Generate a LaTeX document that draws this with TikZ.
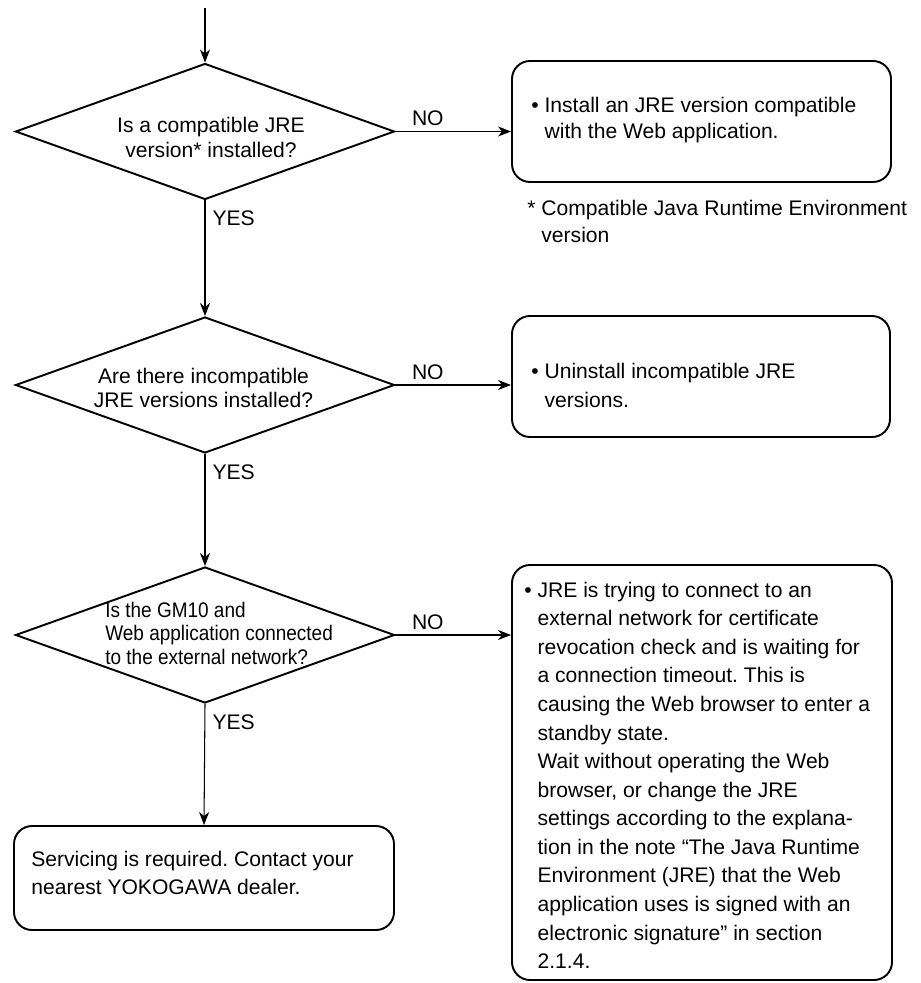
\documentclass[tikz,border=0pt]{standalone}
\usepackage{fontspec}
\setmainfont{Liberation Sans}
\newfontfamily\narrowsans[FakeStretch=0.9]{Liberation Sans}
\usetikzlibrary{shapes.geometric,arrows.meta}
\newcommand{\bulletgap}{\phantom{\textbullet\ }}
\frenchspacing

\begin{document}
\begin{tikzpicture}[x=1cm,y=1cm,
  decision/.style={diamond,draw,line width=1.1pt,minimum width=7.58cm,minimum height=2.72cm,inner sep=0pt},
  actionbox/.style={rectangle,draw,line width=1.1pt,rounded corners=0.36cm},
  flowtext/.style={inner sep=0pt,align=left,font=\fontsize{12}{#1}\selectfont},
  flowline/.style={line width=0.6pt,-{Stealth[length=0.26cm,width=0.2cm,inset=0.08cm]}},
  nolbl/.style={anchor=south,inner sep=0pt,yshift=0.1cm,font=\fontsize{12}{14}\selectfont},
  yeslbl/.style={anchor=north west,inner sep=0pt,xshift=0.14cm,yshift=-0.2cm,font=\fontsize{12}{14}\selectfont}]
\path[use as bounding box] (0,0) rectangle (18.42,-19.66);
\coordinate (start) at (4.10,-0.16);

% first check
\node[decision] (dia1) at (4.10,-2.63) {};
\node[flowtext=14.2,align=center,anchor=north] (q1) at (4.22,-2.33) {Is a compatible JRE\\version* installed?};
\node[actionbox,minimum width=7.58cm,minimum height=2.42cm] (box1) at (14.03,-2.43) {};
\node[flowtext=14.8,anchor=north west] (t1) at (10.62,-1.93) {• Install an JRE version compatible\\\bulletgap with the Web application.};
\node[flowtext=15.6,anchor=north west] (fn) at (10.54,-3.99) {* Compatible Java Runtime Environment\\\phantom{* }version};

% second check
\node[decision] (dia2) at (4.10,-7.70) {};
\node[flowtext=13.6,align=center,anchor=north] (q2) at (4.07,-7.35) {Are there incompatible\\JRE versions installed?};
\node[actionbox,minimum width=7.56cm,minimum height=2.42cm] (box2) at (14.02,-7.53) {};
\node[flowtext=16.5,anchor=north west] (t2) at (10.62,-7.25) {• Uninstall incompatible JRE\\\bulletgap versions.};

% third check
\node[decision] (dia3) at (4.10,-12.70) {};
\node[flowtext=13.4,anchor=north west,font=\narrowsans\fontsize{12}{13.4}\selectfont] (q3) at (2.10,-12.03) {Is the GM10 and\\Web application connected\\to the external network?};
\node[actionbox,minimum width=7.60cm,minimum height=8.30cm] (box3) at (14.04,-15.45) {};
\node[flowtext=16.26,anchor=north west] (t3) at (10.48,-11.63) {• JRE is trying to connect to an\\
\bulletgap external network for certificate\\
\bulletgap revocation check and is waiting for\\
\bulletgap a connection timeout. This is\\
\bulletgap causing the Web browser to enter a\\
\bulletgap standby state.\\
\bulletgap Wait without operating the Web\\
\bulletgap browser, or change the JRE\\
\bulletgap settings according to the explana-\\
\bulletgap tion in the note “The Java Runtime\\
\bulletgap Environment (JRE) that the Web\\
\bulletgap application uses is signed with an\\
\bulletgap electronic signature” in section\\
\bulletgap 2.1.4.};

% service
\node[actionbox,minimum width=7.60cm,minimum height=2.08cm] (box4) at (4.08,-17.56) {};
\node[flowtext=15.9,anchor=north west] (t4) at (0.62,-17.01) {Servicing is required. Contact your\\nearest YOKOGAWA dealer.};

\draw[flowline] (start) -- (dia1.north);
\draw[flowline] (dia1.east) -- (dia1.east -| box1.west) node[nolbl,pos=0.28] {NO};
\draw[flowline] (dia1.south) -- (dia2.north) node[yeslbl,pos=0] {YES};
\draw[flowline] (dia2.east) -- (dia2.east -| box2.west) node[nolbl,pos=0.28] {NO};
\draw[flowline] (dia2.south) -- (dia3.north) node[yeslbl,pos=0] {YES};
\draw[flowline] (dia3.east) -- (dia3.east -| box3.west) node[nolbl,pos=0.28] {NO};
\draw[flowline] (dia3.south) -- (box4.north) node[yeslbl,pos=0] {YES};
\end{tikzpicture}
\end{document}
